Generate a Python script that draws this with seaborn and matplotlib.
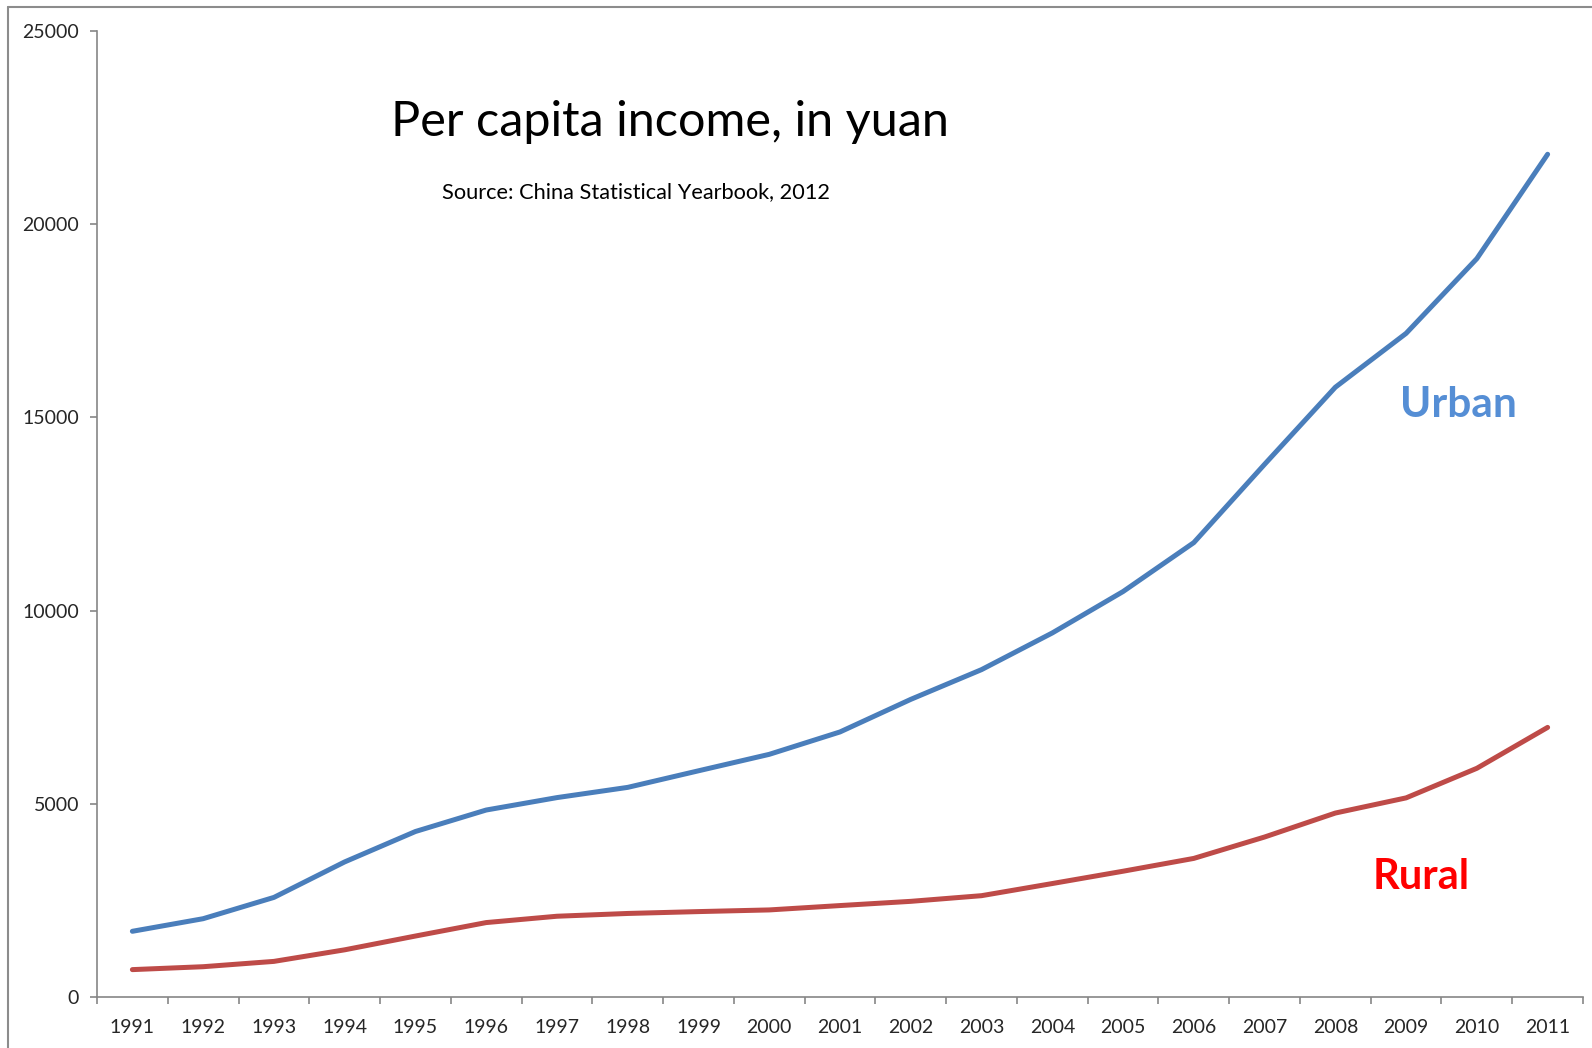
import matplotlib
matplotlib.use("Agg")
import matplotlib.pyplot as plt
import seaborn as sns
import pandas as pd
import numpy as np
from matplotlib.lines import Line2D

years = [str(y) for y in range(1991, 2012)]
urban = [1700.6, 2026.6, 2577.4, 3496.2, 4283.0, 4838.9, 5160.3, 5425.1, 5854.0, 6280.0,
         6859.6, 7702.8, 8472.2, 9421.6, 10493.0, 11759.5, 13785.8, 15780.8, 17174.7,
         19109.4, 21809.8]
rural = [708.6, 784.0, 921.6, 1221.0, 1577.7, 1926.1, 2090.1, 2162.0, 2210.3, 2253.4,
         2366.4, 2475.6, 2622.2, 2936.4, 3254.9, 3587.0, 4140.4, 4760.6, 5153.2,
         5919.0, 6977.3]
y_ticks = [0, 5000, 10000, 15000, 20000, 25000]

sns.set_style("white")
FONT = ["Lato", "DejaVu Sans"]
plt.rcParams["font.family"] = FONT

fig = plt.figure(figsize=(15.92, 10.48), dpi=100)
ax = fig.add_axes([97/1592, 1-997/1048, (1583-97)/1592, (997-31)/1048])

pos = list(range(len(years)))
df = pd.DataFrame({"pos": pos + pos,
                   "value": urban + rural,
                   "series": ["Urban"] * len(years) + ["Rural"] * len(years)})
sns.lineplot(data=df, x="pos", y="value", hue="series",
             palette={"Urban": "#4A7EBB", "Rural": "#BE4B48"},
             linewidth=3.6, legend=False, ax=ax, solid_capstyle="round")

ax.set_xlim(-0.5, len(years) - 0.5)
ax.set_ylim(0, 25000)
ax.set_yticks(y_ticks)
ax.set_yticklabels([str(v) for v in y_ticks], fontsize=14)
ax.set_xticks(np.arange(-0.5, len(years), 1.0))
ax.set_xticklabels([])
ax.set_xticks(pos, minor=True)
ax.set_xticklabels(years, minor=True, fontsize=14)
ax.tick_params(axis="x", which="major", length=5, width=1.2, color="#868686", direction="out", bottom=True)
ax.tick_params(axis="x", which="minor", length=0, pad=16)
ax.tick_params(axis="y", length=5, width=1.2, color="#868686", direction="out", left=True, pad=8)
ax.set_xlabel("")
ax.set_ylabel("")
for s in ["top", "right"]:
    ax.spines[s].set_visible(False)
for s in ["left", "bottom"]:
    ax.spines[s].set_color("#868686")
    ax.spines[s].set_linewidth(1.2)

fig.text(670/1592, 1-122/1048, "Per capita income, in yuan", fontsize=35,
         ha="center", va="center", color="black")
fig.text(636/1592, 1-192/1048, "Source: China Statistical Yearbook, 2012", fontsize=15.7,
         ha="center", va="center", color="black")
fig.text(1458/1592, 1-405/1048, "Urban", fontsize=30.5, fontweight="bold",
         ha="center", va="center", color="#558ED5")
fig.text(1421/1592, 1-877/1048, "Rural", fontsize=30, fontweight="bold",
         ha="center", va="center", color="#FF0000")

# outer chart border (top and left visible)
fig.add_artist(Line2D([8/1592, 1], [1-7/1048, 1-7/1048], transform=fig.transFigure,
                      color="#8C8C8C", linewidth=1.5))
fig.add_artist(Line2D([8/1592, 8/1592], [0, 1-7/1048], transform=fig.transFigure,
                      color="#8C8C8C", linewidth=1.5))

fig.savefig("out.png", dpi=100, facecolor="white")
